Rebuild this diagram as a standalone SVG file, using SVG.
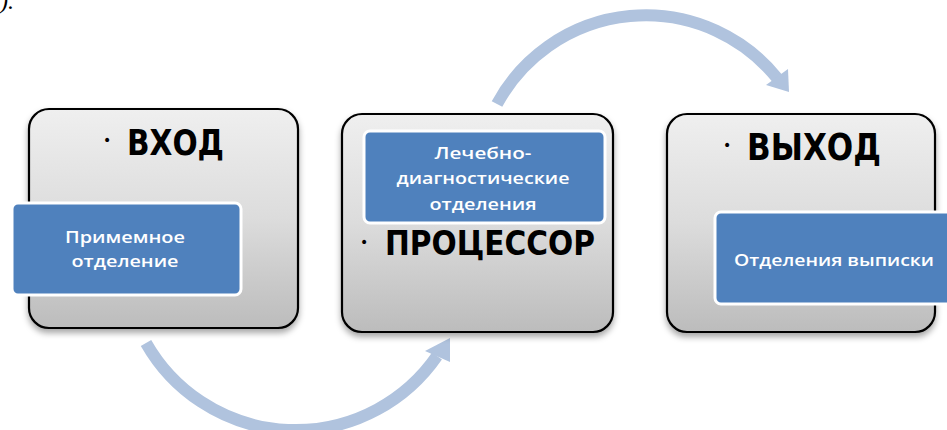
<svg xmlns="http://www.w3.org/2000/svg" width="947" height="430" viewBox="0 0 947 430">
  <defs>
    <linearGradient id="grayGrad" x1="0" y1="0" x2="0" y2="1">
      <stop offset="0" stop-color="#efefef"/>
      <stop offset="0.5" stop-color="#dcdcdc"/>
      <stop offset="1" stop-color="#bcbcbc"/>
    </linearGradient>
    <filter id="shadow" x="-10%" y="-10%" width="120%" height="130%">
      <feDropShadow dx="0" dy="4" stdDeviation="3" flood-color="#000" flood-opacity="0.35"/>
    </filter>
  </defs>
  <style>
    .outer { fill: url(#grayGrad); stroke: #000; stroke-width: 2.2; filter: url(#shadow); }
    .inner { fill: #4f81bd; stroke: #fff; stroke-width: 3; }
    .title { font-family: "DejaVu Sans", "Liberation Sans", sans-serif; font-weight: bold; fill: #000; }
    .bullet { font-family: "DejaVu Sans", sans-serif; font-size: 14px; fill: #000; }
    .label { font-family: "Open Sans", "Liberation Sans", sans-serif; font-weight: 600; font-size: 16px; fill: #fff; text-anchor: middle; }
    .arc { fill: none; stroke: #b0c3de; stroke-width: 12; }
    .head { fill: #b0c3de; }
  </style>

  <text x="0" y="9" font-family="Liberation Serif, serif" font-style="italic" font-size="24" fill="#000">).</text>

  <g id="connectors">
    <path class="arc" d="M146,343 A172,172 0 0 0 437,356"/>
    <polygon class="head" points="450,338 450,362 425,351"/>
    <path class="arc" d="M497,104 A169,169 0 0 1 777,78"/>
    <polygon class="head" points="789,92 788,69 766,85"/>
  </g>

  <g id="node-input">
    <rect class="outer" x="29" y="109" width="269" height="219" rx="20" ry="20"/>
    <text class="bullet" x="103" y="145">•</text>
    <text class="title" x="127" y="155" font-size="36" textLength="97" lengthAdjust="spacingAndGlyphs">ВХОД</text>
    <rect class="inner" x="12" y="203" width="229" height="92" rx="6" ry="6"/>
    <text class="label" x="125" y="243" textLength="120" lengthAdjust="spacingAndGlyphs">Примемное</text>
    <text class="label" x="125" y="267" textLength="107" lengthAdjust="spacingAndGlyphs">отделение</text>
  </g>

  <g id="node-processor">
    <rect class="outer" x="342" y="114" width="271" height="218" rx="20" ry="20"/>
    <rect class="inner" x="364" y="131" width="241" height="92" rx="6" ry="6"/>
    <text class="label" x="483" y="159" textLength="97" lengthAdjust="spacingAndGlyphs">Лечебно-</text>
    <text class="label" x="483" y="184" textLength="173" lengthAdjust="spacingAndGlyphs">диагностические</text>
    <text class="label" x="483" y="210" textLength="107" lengthAdjust="spacingAndGlyphs">отделения</text>
    <text class="bullet" x="360" y="247">•</text>
    <text class="title" x="385" y="255" font-size="33" textLength="210" lengthAdjust="spacingAndGlyphs">ПРОЦЕССОР</text>
  </g>

  <g id="node-output">
    <rect class="outer" x="667" y="114" width="268" height="218" rx="20" ry="20"/>
    <text class="bullet" x="723" y="150">•</text>
    <text class="title" x="747" y="160" font-size="37" textLength="134" lengthAdjust="spacingAndGlyphs">ВЫХОД</text>
    <rect class="inner" x="715" y="212" width="245" height="92" rx="6" ry="6"/>
    <text class="label" x="834" y="266" textLength="200" lengthAdjust="spacingAndGlyphs">Отделения выписки</text>
  </g>
</svg>
